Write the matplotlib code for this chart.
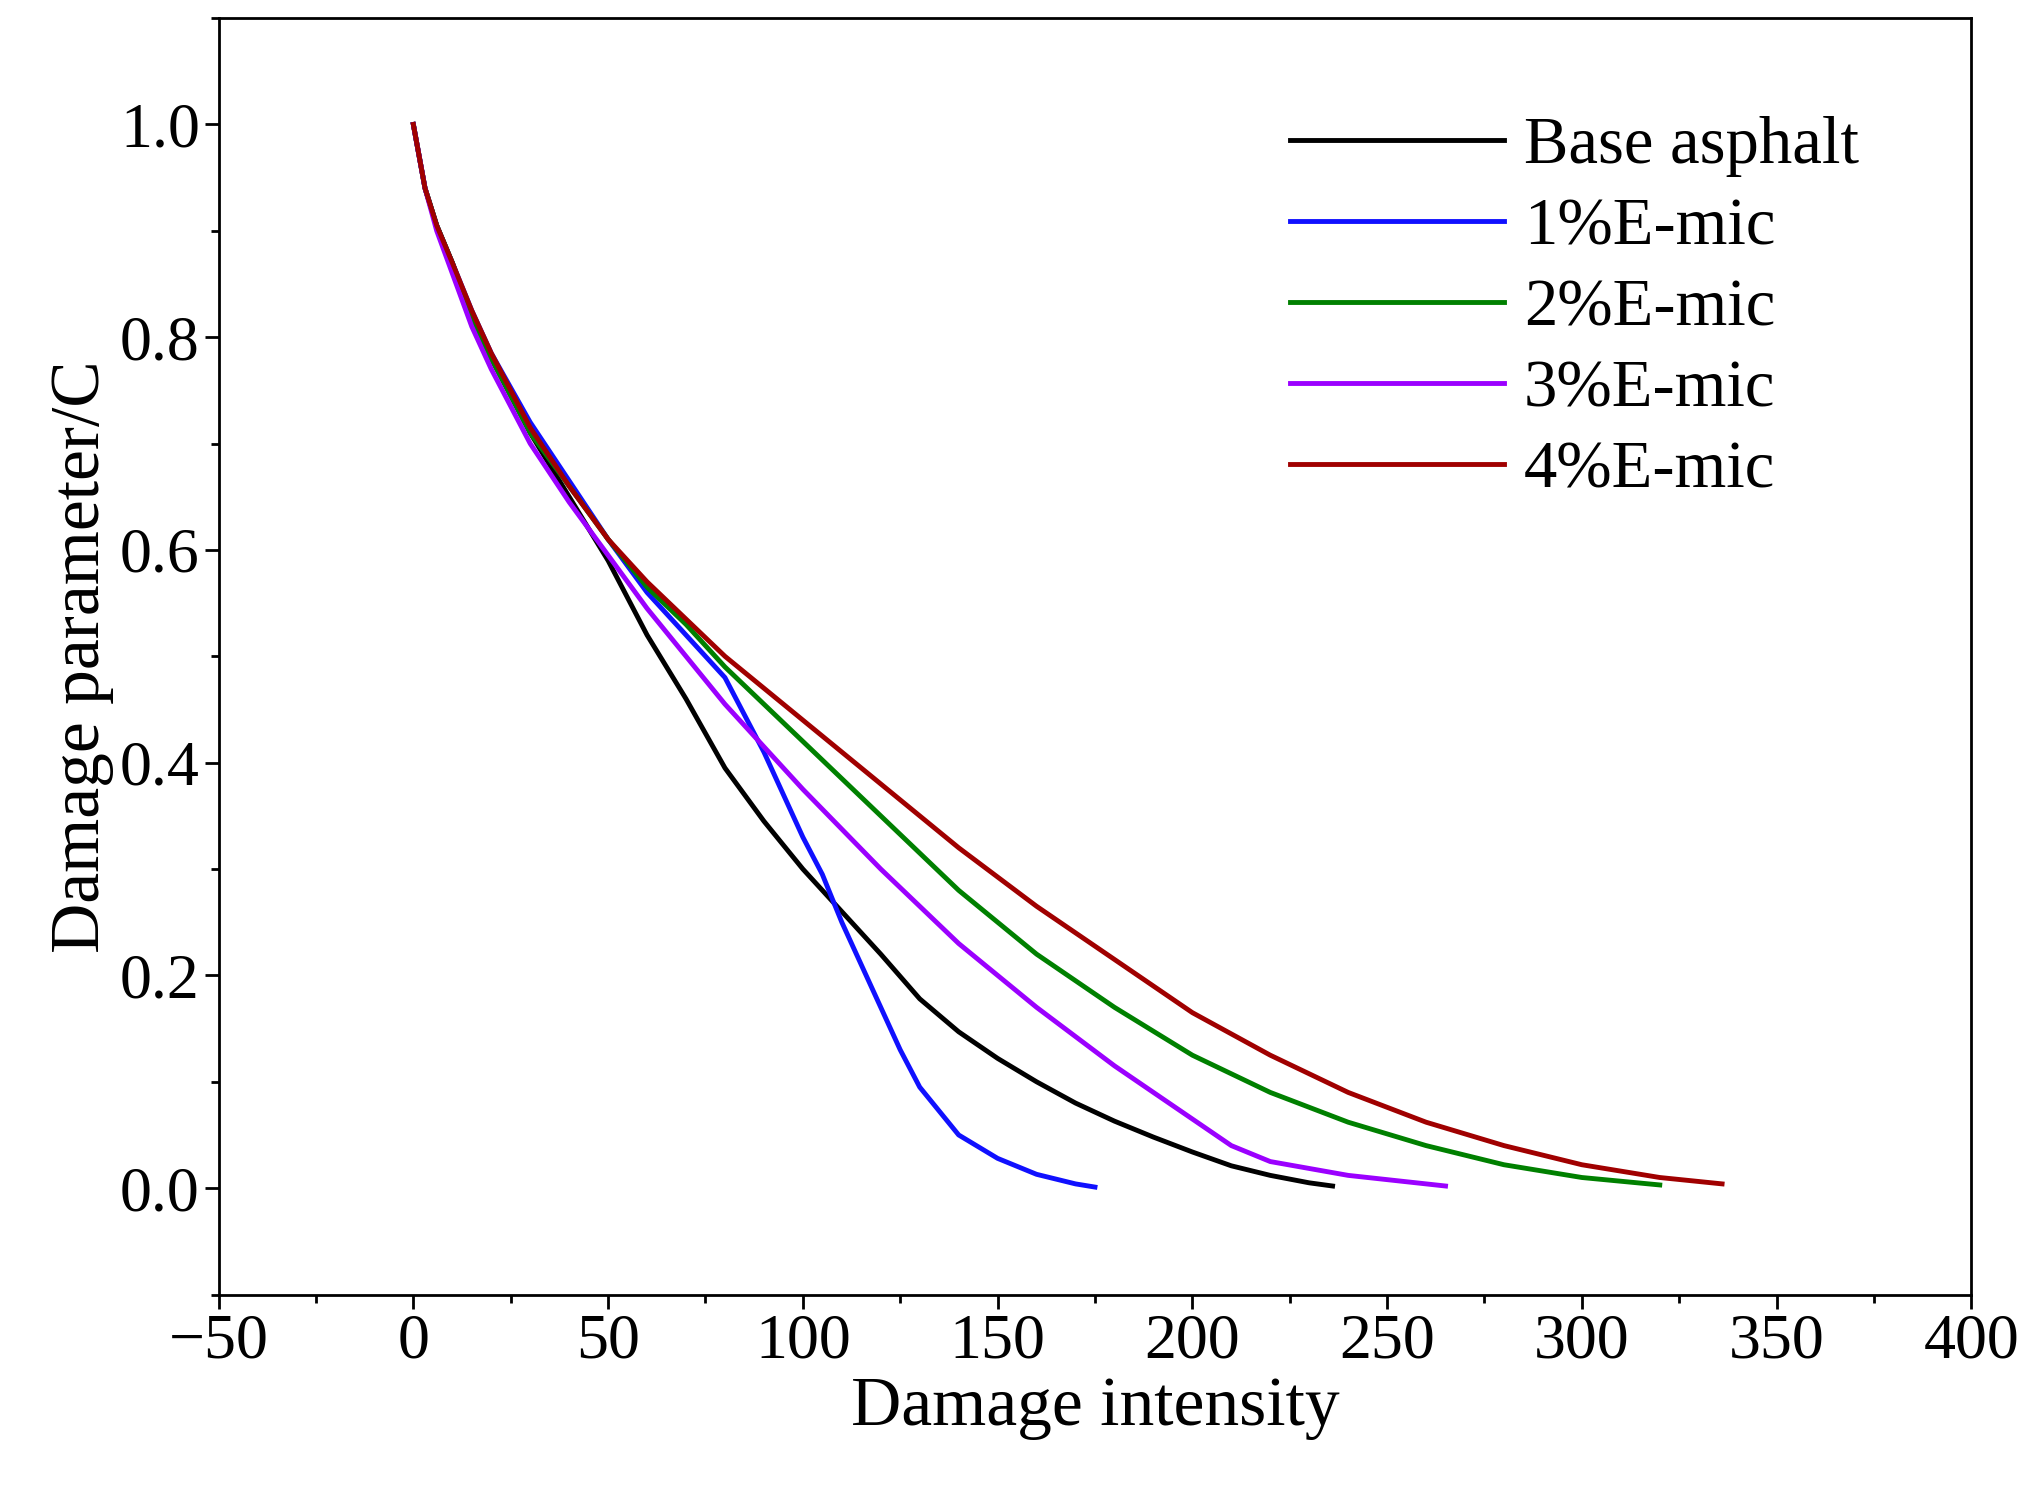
import matplotlib
matplotlib.use("Agg")
import matplotlib.pyplot as plt
from matplotlib.ticker import MultipleLocator

x_base = [0,3,6,10,15,20,30,40,50,60,70,80,90,100,110,120,130,140,150,160,170,180,190,200,210,220,230,236]
y_base = [1.0,0.94,0.905,0.87,0.82,0.78,0.71,0.65,0.59,0.52,0.46,0.395,0.345,0.30,0.26,0.22,0.178,0.147,0.122,0.10,0.08,0.063,0.048,0.034,0.021,0.012,0.005,0.002]
x_1 = [0,3,6,10,15,20,30,40,50,60,70,80,90,100,105,110,120,125,130,140,150,160,170,175]
y_1 = [1.0,0.94,0.905,0.87,0.825,0.785,0.72,0.665,0.61,0.56,0.52,0.48,0.41,0.33,0.295,0.25,0.17,0.13,0.095,0.05,0.028,0.013,0.004,0.001]
x_2 = [0,3,6,10,15,20,30,40,50,60,70,80,100,120,140,160,180,200,220,240,260,280,300,320]
y_2 = [1.0,0.94,0.905,0.87,0.82,0.78,0.71,0.66,0.61,0.565,0.53,0.49,0.42,0.35,0.28,0.22,0.17,0.125,0.09,0.062,0.04,0.022,0.01,0.003]
x_3 = [0,3,6,10,15,20,30,40,50,60,70,80,100,120,140,160,180,200,210,220,240,255,265]
y_3 = [1.0,0.94,0.9,0.86,0.81,0.77,0.70,0.645,0.595,0.545,0.50,0.455,0.375,0.30,0.23,0.17,0.115,0.065,0.04,0.025,0.012,0.006,0.002]
x_4 = [0,3,6,10,15,20,30,40,50,60,70,80,100,120,140,160,180,200,220,240,260,280,300,320,336]
y_4 = [1.0,0.94,0.905,0.87,0.825,0.785,0.715,0.66,0.61,0.57,0.535,0.50,0.44,0.38,0.32,0.265,0.215,0.165,0.125,0.09,0.062,0.04,0.022,0.01,0.004]

labels = ["Base asphalt", "1%E-mic", "2%E-mic", "3%E-mic", "4%E-mic"]
colors = ["#000000", "#1010ff", "#008000", "#9b00ff", "#a00000"]
series = [(x_base, y_base), (x_1, y_1), (x_2, y_2), (x_3, y_3), (x_4, y_4)]

plt.rcParams["font.family"] = "Liberation Serif"
fig = plt.figure(figsize=(20.24, 15.07), dpi=100)
ax = fig.add_axes([0.108, 0.141, 0.866, 0.847])
for (x, y), c, l in zip(series, colors, labels):
    ax.plot(x, y, color=c, lw=3.5, label=l)
ax.set_xlim(-50, 400)
ax.set_ylim(-0.1, 1.1)
ax.xaxis.set_major_locator(MultipleLocator(50))
ax.xaxis.set_minor_locator(MultipleLocator(25))
ax.yaxis.set_major_locator(MultipleLocator(0.2))
ax.yaxis.set_minor_locator(MultipleLocator(0.1))
ax.yaxis.set_major_formatter(matplotlib.ticker.FormatStrFormatter("%.1f"))
ax.tick_params(which="major", length=10, width=2, labelsize=46)
ax.tick_params(which="minor", length=6, width=2)
for s in ax.spines.values():
    s.set_linewidth(2)
ax.set_xlabel("Damage intensity", fontsize=50, labelpad=4)
ax.set_ylabel("Damage parameter/C", fontsize=50, labelpad=4)
ax.legend(loc="upper right", frameon=False, fontsize=48, handlelength=3.2,
          labelspacing=0.3, handletextpad=0.3, bbox_to_anchor=(0.97, 0.97))
fig.savefig("out.png", dpi=100)
